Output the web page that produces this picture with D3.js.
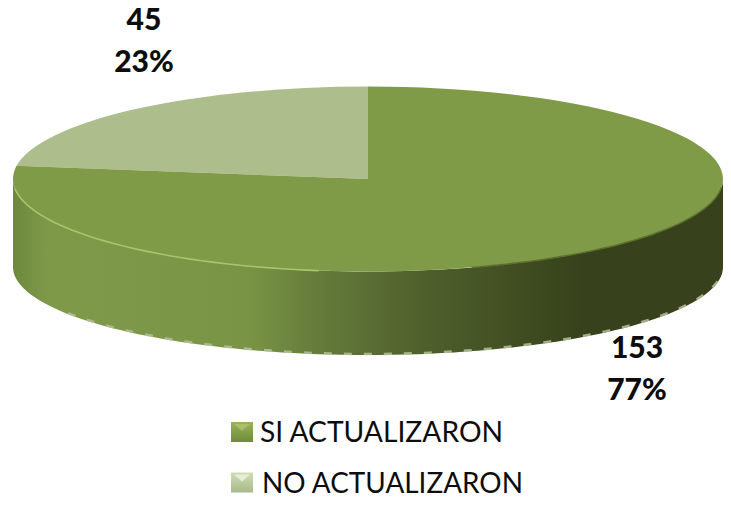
<!DOCTYPE html>
<html>
<head>
<meta charset="utf-8">
<script src="https://cdnjs.cloudflare.com/ajax/libs/d3/7.8.5/d3.min.js"></script>
<style>
  html, body { margin: 0; padding: 0; background: #fff; }
  svg { display: block; }
  text { font-family: Lato, "Open Sans", sans-serif; fill: #0d0d0d; }
</style>
</head>
<body>
<svg id="chart" width="731" height="506"></svg>
<script>
var categories = ["SI ACTUALIZARON", "NO ACTUALIZARON"];
var values = [153, 45];
var percents = ["77%", "23%"];
var topColors = ["#809b48", "#adbe8c"];

var svg = d3.select("#chart");
var defs = svg.append("defs");

// disc geometry, the lower rim has its own ellipse because of the perspective
var cx = 368, rx = 355;
var topY = 179, topRy = 92.5;
var bottomY = 267, bottomRy = 88;

// pie starts at 12 o'clock and runs clockwise, same as the original
var pie = d3.pie().sort(null).value(function(d) { return d; })
  .startAngle(-Math.PI * 2 * values[1] / d3.sum(values))
  .endAngle(Math.PI * 2 - Math.PI * 2 * values[1] / d3.sum(values));
// second value first so first value begins at the top
var slices = pie([values[1], values[0]]);
var arc = d3.arc().innerRadius(0).outerRadius(1);

// side wall gradient, light on the left and almost black green on the right
var sideStops = [
  [0, "#6c883c"], [0.05, "#7e9a49"], [0.33, "#7a9446"], [0.44, "#63793a"],
  [0.58, "#4f5f2c"], [0.72, "#3f4c20"], [0.8, "#37421c"], [1, "#37421c"]
];
var sideGrad = defs.append("linearGradient").attr("id", "side");
sideGrad.selectAll("stop").data(sideStops).enter().append("stop")
  .attr("offset", function(d) { return d[0]; })
  .attr("stop-color", function(d) { return d[1]; });

function rimPoint(a, y0, ry) {
  return [cx + rx * Math.sin(a), y0 - ry * Math.cos(a)];
}

// front half of the rim, right to left
var frontAngles = d3.range(90, 271, 2).map(function(d) { return d * Math.PI / 180; });
var line = d3.line();

var sidePts = frontAngles.map(function(a) { return rimPoint(a, topY, topRy); })
  .concat(frontAngles.slice().reverse().map(function(a) { return rimPoint(a, bottomY, bottomRy); }));

svg.append("path")
  .attr("d", line(sidePts) + "Z")
  .attr("fill", "url(#side)");

// pale broken edge along the bottom of the wall
svg.append("path")
  .attr("d", line(frontAngles.slice(5, 76).map(function(a) { return rimPoint(a, bottomY - 1, bottomRy); })))
  .attr("fill", "none")
  .attr("stroke", "#b4c09a")
  .attr("stroke-width", 2.5)
  .attr("stroke-dasharray", "8 12")
  .attr("opacity", 0.85);

// top of the disc
svg.append("g")
  .attr("transform", "translate(" + cx + "," + topY + ") scale(" + rx + "," + topRy + ")")
  .selectAll("path").data(slices).enter().append("path")
  .attr("d", arc)
  .attr("fill", function(d, i) { return i == 0 ? topColors[1] : topColors[0]; });

// highlight on the front left of the rim
var glowAngles = d3.range(188, 266, 2).map(function(d) { return d * Math.PI / 180; });
svg.append("path")
  .attr("d", line(glowAngles.map(function(a) { return rimPoint(a, topY, topRy); })))
  .attr("fill", "none")
  .attr("stroke", "#a9c56c")
  .attr("stroke-width", 1.6);

// dark shadow under the right rim
var shadeAngles = d3.range(95, 165, 2).map(function(d) { return d * Math.PI / 180; });
svg.append("path")
  .attr("d", line(shadeAngles.map(function(a) { return rimPoint(a, topY, topRy); })))
  .attr("fill", "none")
  .attr("stroke", "#5c6f30")
  .attr("stroke-width", 1.5);

// data labels
var labelRows = [
  { x: 637, y: 358, t: values[0] }, { x: 637, y: 400, t: percents[0] },
  { x: 144, y: 30, t: values[1] }, { x: 144, y: 72, t: percents[1] }
];
svg.selectAll("text.lab").data(labelRows).enter().append("text")
  .attr("class", "lab")
  .attr("x", function(d) { return d.x; })
  .attr("y", function(d) { return d.y; })
  .attr("text-anchor", "middle")
  .attr("font-size", 30)
  .attr("font-weight", "900")
  .text(function(d) { return d.t; });

// legend
var legendY = d3.scalePoint().domain(categories).range([432, 482.5]);
var swatchGrad = [["#9ab25a", "#6f8b3a"], ["#cfdcb4", "#a9ba8a"]];
swatchGrad.forEach(function(c, i) {
  var g = defs.append("linearGradient").attr("id", "sw" + i).attr("x2", 0).attr("y2", 1);
  g.append("stop").attr("offset", 0).attr("stop-color", c[0]);
  g.append("stop").attr("offset", 1).attr("stop-color", c[1]);
});
var leg = svg.selectAll("g.leg").data(categories).enter().append("g")
  .attr("class", "leg")
  .attr("transform", function(d) { return "translate(231," + legendY(d) + ")"; });
leg.append("rect")
  .attr("y", -10).attr("width", 22).attr("height", 20)
  .attr("fill", function(d, i) { return "url(#sw" + i + ")"; });
leg.append("path")
  .attr("d", "M3,-8L19,-8L11,-1Z")
  .attr("fill", function(d, i) { return i == 0 ? "#a9bf6b" : "#e6eed6"; });
leg.append("text")
  .attr("x", function(d, i) { return i == 0 ? 29 : 31; })
  .attr("y", 10)
  .attr("font-size", 28.5)
  .attr("textLength", function(d, i) { return i == 0 ? 243 : 261; })
  .attr("lengthAdjust", "spacingAndGlyphs")
  .text(function(d) { return d; });
</script>
</body>
</html>
